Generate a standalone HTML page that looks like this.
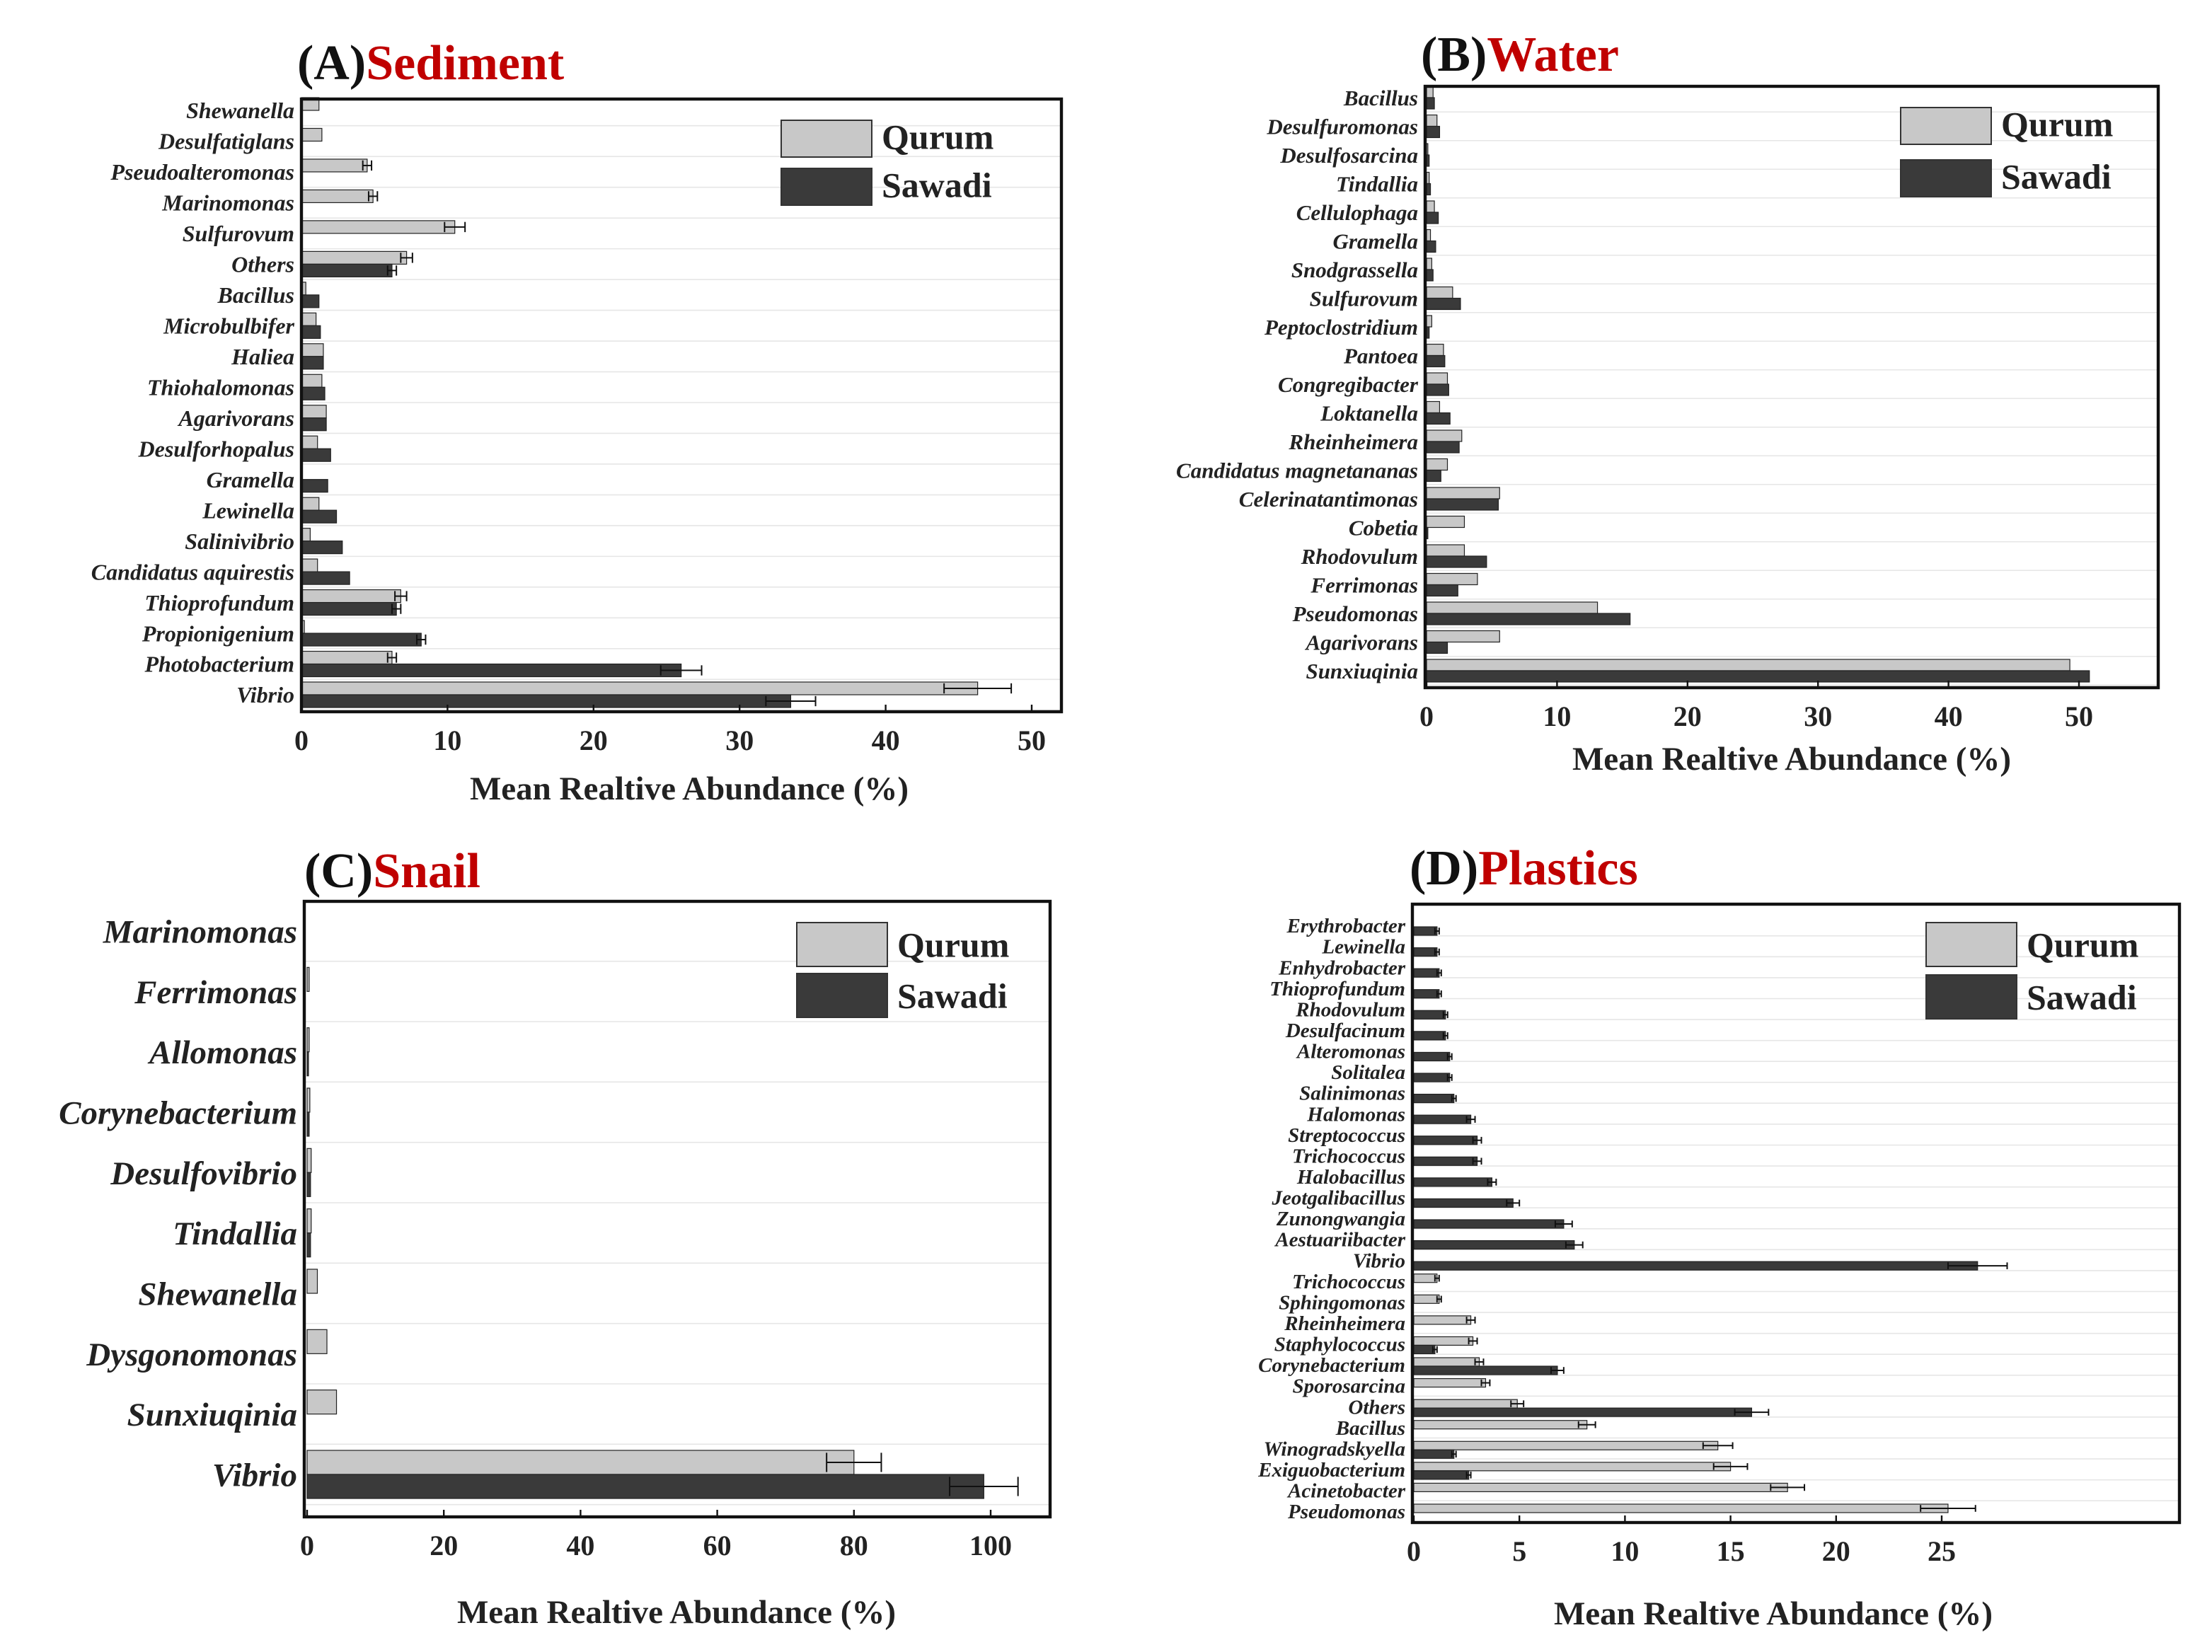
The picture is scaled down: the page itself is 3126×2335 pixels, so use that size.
<!DOCTYPE html>
<html><head><meta charset="utf-8"><style>
html,body{margin:0;padding:0;background:#fff}
svg{display:block}
text{font-family:"Liberation Serif",serif}
</style></head><body>
<svg id="fig" width="3126" height="2335" viewBox="0 0 1563 1167.5" xmlns="http://www.w3.org/2000/svg"></svg>
<script>
// Panel A: Sediment
const catsA=["Shewanella","Desulfatiglans","Pseudoalteromonas","Marinomonas","Sulfurovum","Others","Bacillus","Microbulbifer","Haliea","Thiohalomonas","Agarivorans","Desulforhopalus","Gramella","Lewinella","Salinivibrio","Candidatus aquirestis","Thioprofundum","Propionigenium","Photobacterium","Vibrio"];
const qurumA=[1.2,1.4,4.5,4.9,10.5,7.2,0.3,1.0,1.5,1.4,1.7,1.1,0,1.2,0.6,1.1,6.8,0.2,6.2,46.3];
const sawadiA=[0,0,0,0,0,6.2,1.2,1.3,1.5,1.6,1.7,2.0,1.8,2.4,2.8,3.3,6.5,8.2,26.0,33.5];
const qErrA=[0,0,0.3,0.3,0.7,0.4,0,0,0,0,0,0,0,0,0,0,0.4,0,0.3,2.3];
const sErrA=[0,0,0,0,0,0.3,0,0,0,0,0,0,0,0,0,0,0.3,0.3,1.4,1.7];
const ticksA=[0,10,20,30,40,50];
// Panel B: Water
const catsB=["Bacillus","Desulfuromonas","Desulfosarcina","Tindallia","Cellulophaga","Gramella","Snodgrassella","Sulfurovum","Peptoclostridium","Pantoea","Congregibacter","Loktanella","Rheinheimera","Candidatus magnetananas","Celerinatantimonas","Cobetia","Rhodovulum","Ferrimonas","Pseudomonas","Agarivorans","Sunxiuqinia"];
const qurumB=[0.5,0.8,0.1,0.2,0.6,0.3,0.4,2.0,0.4,1.3,1.6,1.0,2.7,1.6,5.6,2.9,2.9,3.9,13.1,5.6,49.3];
const sawadiB=[0.6,1.0,0.2,0.3,0.9,0.7,0.5,2.6,0.2,1.4,1.7,1.8,2.5,1.1,5.5,0.1,4.6,2.4,15.6,1.6,50.8];
const ticksB=[0,10,20,30,40,50];
// Panel C: Snail
const catsC=["Marinomonas","Ferrimonas","Allomonas","Corynebacterium","Desulfovibrio","Tindallia","Shewanella","Dysgonomonas","Sunxiuqinia","Vibrio"];
const qurumC=[0,0.3,0.3,0.4,0.6,0.6,1.5,2.9,4.3,80];
const sawadiC=[0,0,0.2,0.3,0.5,0.5,0,0,0,99];
const qErrC=[0,0,0,0,0,0,0,0,0,4];
const sErrC=[0,0,0,0,0,0,0,0,0,5];
const ticksC=[0,20,40,60,80,100];
// Panel D: Plastics
const catsD=["Erythrobacter","Lewinella","Enhydrobacter","Thioprofundum","Rhodovulum","Desulfacinum","Alteromonas","Solitalea","Salinimonas","Halomonas","Streptococcus","Trichococcus","Halobacillus","Jeotgalibacillus","Zunongwangia","Aestuariibacter","Vibrio","Trichococcus","Sphingomonas","Rheinheimera","Staphylococcus","Corynebacterium","Sporosarcina","Others","Bacillus","Winogradskyella","Exiguobacterium","Acinetobacter","Pseudomonas"];
const qurumD=[0,0,0,0,0,0,0,0,0,0,0,0,0,0,0,0,0,1.1,1.2,2.7,2.8,3.1,3.4,4.9,8.2,14.4,15.0,17.7,25.3];
const sawadiD=[1.1,1.1,1.2,1.2,1.5,1.5,1.7,1.7,1.9,2.7,3.0,3.0,3.7,4.7,7.1,7.6,26.7,0,0,0,1.0,6.8,0,16.0,0,1.9,2.6,0,0];
const qErrD=[0,0,0,0,0,0,0,0,0,0,0,0,0,0,0,0,0,0.1,0.1,0.2,0.2,0.2,0.2,0.3,0.4,0.7,0.8,0.8,1.3];
const sErrD=[0.1,0.1,0.1,0.1,0.1,0.1,0.1,0.1,0.1,0.2,0.2,0.2,0.2,0.3,0.4,0.4,1.4,0,0,0,0.1,0.3,0,0.8,0,0.1,0.1,0,0];
const ticksD=[0,5,10,15,20,25];

const NS="http://www.w3.org/2000/svg";
const svg=document.getElementById('fig');
function mk(tag,attrs,parent,txt){const e=document.createElementNS(NS,tag);for(const k in attrs)e.setAttribute(k,attrs[k]);if(txt!==undefined)e.textContent=txt;(parent||svg).appendChild(e);return e;}

function panel(p){
  const g=mk('g',{});
  
  
  const sx=v=>p.x0+(v/p.tmax)*(p.x1-p.x0);
  const n=p.cats.length;
  const sy=i=>p.yc0+i*(p.ycN-p.yc0)/(n-1);
  const step=(p.ycN-p.yc0)/(n-1);
  for(let i=0;i<n;i++){
    const gl=mk('line',{x1:p.fx0,x2:p.fx1,y1:sy(i)+step/2,y2:sy(i)+step/2,stroke:'#e6e6e6','stroke-width':0.8},g);
    
    
  }
  const series=[[p.q,p.qe,'#c8c8c8',-1,'qurum'],[p.s,p.se,'#3a3a3a',1,'sawadi']];
  for(let i=0;i<n;i++){
    series.forEach(([vals,errs,col,dir,nm])=>{
      const v=vals[i];if(!v)return;
      const y=dir<0?sy(i)-p.bh+p.off:sy(i)+p.off;
      const r=mk('rect',{x:sx(0),y:y,width:sx(v)-sx(0),height:p.bh,fill:col,stroke:'#222','stroke-width':0.6},g);
      
      
      const e=errs?errs[i]:0;
      if(e){
        const yc=y+p.bh/2,c=p.bh*0.4;
        const eg=mk('g',{stroke:'#111','stroke-width':1},g);
        
        
        mk('line',{x1:sx(v-e),x2:sx(v+e),y1:yc,y2:yc},eg);
        mk('line',{x1:sx(v-e),x2:sx(v-e),y1:yc-c,y2:yc+c},eg);
        mk('line',{x1:sx(v+e),x2:sx(v+e),y1:yc-c,y2:yc+c},eg);
      }
    });
    const t=mk('text',{x:p.fx0-5,y:sy(i)+p.lfs*0.35,'text-anchor':'end','font-size':p.lfs,'font-style':'italic','font-weight':'bold',fill:'#222'},g,p.cats[i]);
    
    
  }
  const f=mk('rect',{x:p.fx0,y:p.fy0,width:p.fx1-p.fx0,height:p.fy1-p.fy0,fill:'none',stroke:'#111','stroke-width':2.2},g);
  
  
  p.ticks.forEach(t=>{
    const tl=mk('line',{x1:sx(t),x2:sx(t),y1:p.fy1,y2:p.fy1-5,stroke:'#111','stroke-width':1.2},g);
    
    
    const tt=mk('text',{x:sx(t),y:p.fy1+27,'text-anchor':'middle','font-size':20,'font-weight':'bold',fill:'#222'},g,String(t));
    
    
  });
  const xt=mk('text',{x:p.xtx,y:p.xty,'text-anchor':'middle','font-size':23.5,'font-weight':'bold',fill:'#222'},g,'Mean Realtive Abundance (%)');
  
  
  const tt=mk('text',{x:p.tx,y:p.ty,'font-size':35,'font-weight':'bold'},g);
  
  
  mk('tspan',{fill:'#111'},tt,p.letter);
  mk('tspan',{fill:'#c00000'},tt,p.title);
  const lg=mk('g',{},g);
  
  
  [['Qurum','#c8c8c8',p.ly0],['Sawadi','#3a3a3a',p.ly1]].forEach(([nm,col,y])=>{
    const lr=mk('rect',{x:p.lx,y:y,width:64,height:p.lh,fill:col,stroke:'#333','stroke-width':1},lg);
    
    
    const lt=mk('text',{x:p.lx+71,y:y+p.lh*0.78,'font-size':25,'font-weight':'bold',fill:'#222'},lg,nm);
    
    
  });
}

panel({name:'panel-a-sediment',cats:catsA,q:qurumA,s:sawadiA,qe:qErrA,se:sErrA,ticks:ticksA,tmax:50,
  x0:213,x1:729,fx0:213,fx1:750,fy0:70,fy1:503,yc0:78,ycN:491,bh:9,off:0,lfs:16,
  xtx:487,xty:565,tx:210,ty:56,letter:'(A)',title:'Sediment',lx:552,ly0:85,ly1:119,lh:26});
panel({name:'panel-b-water',cats:catsB,q:qurumB,s:sawadiB,qe:null,se:null,ticks:ticksB,tmax:50,
  x0:1008,x1:1469,fx0:1007,fx1:1525,fy0:61,fy1:486,yc0:69,ycN:474,bh:8,off:0,lfs:15.5,
  xtx:1266,xty:544,tx:1004,ty:50,letter:'(B)',title:'Water',lx:1343,ly0:76,ly1:113,lh:26});
panel({name:'panel-c-snail',cats:catsC,q:qurumC,s:sawadiC,qe:qErrC,se:sErrC,ticks:ticksC,tmax:100,
  x0:217,x1:700,fx0:215,fx1:742,fy0:637,fy1:1072,yc0:658,ycN:1042,bh:17,off:0,lfs:23.5,
  xtx:478,xty:1147,tx:215,ty:627,letter:'(C)',title:'Snail',lx:563,ly0:652,ly1:688,lh:31});
panel({name:'panel-d-plastics',cats:catsD,q:qurumD,s:sawadiD,qe:qErrD,se:sErrD,ticks:ticksD,tmax:25,
  x0:999,x1:1372,fx0:998,fx1:1540,fy0:639,fy1:1076,yc0:654,ycN:1068,bh:6,off:1,lfs:14.5,
  xtx:1253,xty:1148,tx:996,ty:625,letter:'(D)',title:'Plastics',lx:1361,ly0:652,ly1:689,lh:31});
</script>
</body></html>
